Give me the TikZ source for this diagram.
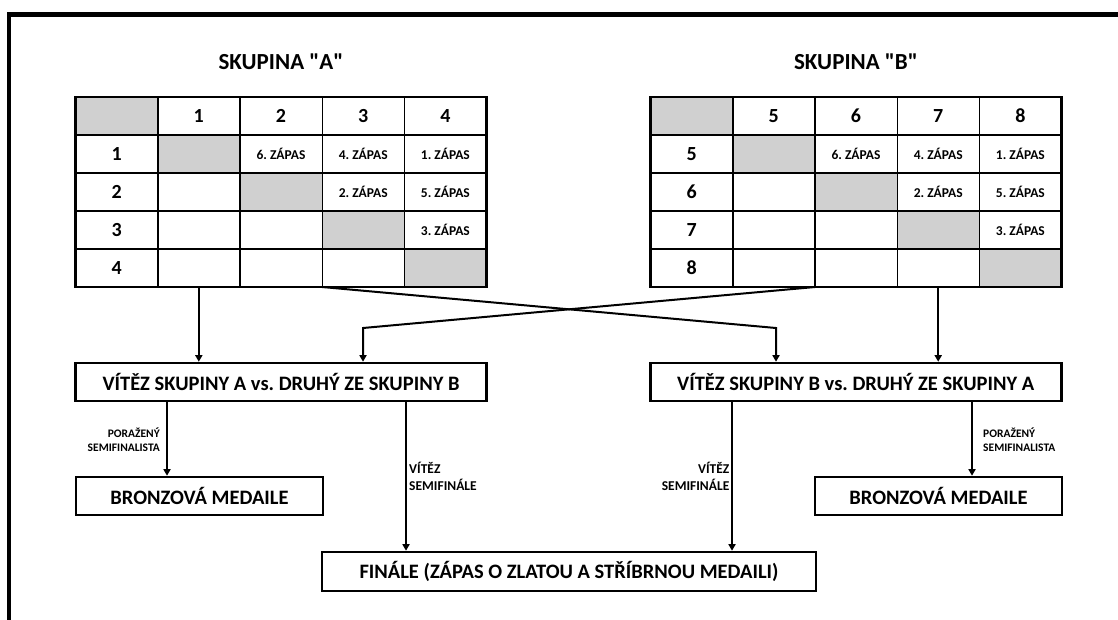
\documentclass[tikz,border=0pt]{standalone}
\usepackage{fontspec}
\setmainfont{Carlito}[Ligatures=TeXOff]
\usetikzlibrary{arrows.meta}
\definecolor{cellgray}{RGB}{208,208,208}
\frenchspacing
\begin{document}
\frenchspacing
\begin{tikzpicture}[x=1pt,y=-1pt,
  cell/.style={draw, line width=1.2pt, minimum width=82.2pt, minimum height=38pt, inner sep=0pt, outer sep=0pt, anchor=north west},
  gcell/.style={cell, fill=cellgray},
  num/.style={font=\bfseries\fontsize{20}{22}\selectfont},
  zap/.style={font=\bfseries\fontsize{13.5}{15}\selectfont},
  ttl/.style={font=\bfseries\fontsize{23}{25}\selectfont},
  box/.style={draw, line width=2.6pt, minimum height=38pt, inner sep=0pt, font=\bfseries\fontsize{20.5}{22}\selectfont},
  conn/.style={line width=2pt},
  arr/.style={conn, -{Triangle[length=6.5pt,width=7pt]}},
  lblsmall/.style={inner sep=0pt, font=\bfseries\fontsize{11.5}{14.5}\selectfont},
  lblbig/.style={inner sep=0pt, font=\bfseries\fontsize{13.5}{16.5}\selectfont},
  thickline/.style={line width=2.6pt},
  midline/.style={line width=2pt}
]
\useasboundingbox (0,0) rectangle (1118,619);
% frame
\draw[line width=4.5pt] (9.2,625) -- (9.2,14.7) -- (1125,14.7);

% titles
\node[ttl] (tA) at (281,62) {SKUPINA "A"};
\node[ttl] (tB) at (856,62) {SKUPINA "B"};

% tables
\foreach \T/\x in {A/75.5,B/650.5}{
  \foreach \r in {0,...,4}{
    \foreach \c in {0,...,4}{
      \ifnum\r=\c \def\st{gcell}\else\def\st{cell}\fi
      \node[\st] (\T-\r-\c) at ({\x+82.2*\c},{97+38*\r}) {};
    }
  }
  \draw[thickline] (\T-0-0.north west) rectangle (\T-4-4.south east);
  \draw[midline] (\T-0-0.south west) -- (\T-0-4.south east);
  \draw[midline] (\T-0-0.north east) -- (\T-4-0.south east);
  \node[zap] at (\T-1-2) {6. ZÁPAS};
  \node[zap] at (\T-1-3) {4. ZÁPAS};
  \node[zap] at (\T-1-4) {1. ZÁPAS};
  \node[zap] at (\T-2-3) {2. ZÁPAS};
  \node[zap] at (\T-2-4) {5. ZÁPAS};
  \node[zap] at (\T-3-4) {3. ZÁPAS};
}
\foreach \i in {1,...,4}{
  \node[num] at (A-0-\i) {\i};
  \node[num] at (A-\i-0) {\i};
}
\foreach \i/\n in {1/5,2/6,3/7,4/8}{
  \node[num] at (B-0-\i) {\n};
  \node[num] at (B-\i-0) {\n};
}

% boxes
\node[box, minimum width=411pt] (boxA) at (281,382) {VÍTĚZ SKUPINY A vs. DRUHÝ ZE SKUPINY B};
\node[box, minimum width=411pt] (boxB) at (855.7,382) {VÍTĚZ SKUPINY B vs. DRUHÝ ZE SKUPINY A};
\node[box, minimum width=247pt] (brA) at (199.5,496) {BRONZOVÁ MEDAILE};
\node[box, minimum width=247pt] (brB) at (938.5,496) {BRONZOVÁ MEDAILE};
\node[box, minimum width=494pt, minimum height=39pt] (fin) at (569,571.5) {FINÁLE (ZÁPAS O ZLATOU A STŘÍBRNOU MEDAILI)};

% connectors from tables
\coordinate (kA) at (363,328);
\coordinate (kB) at (776,328);
\draw[arr] (A-4-1.south) -- (A-4-1.south |- boxA.north);
\draw[arr] (B-4-3.south) -- (B-4-3.south |- boxB.north);
\draw[arr] (A-4-3.south west) -- (kB) -- (kB |- boxB.north);
\draw[arr] (B-4-2.south west) -- (kA) -- (kA |- boxA.north);

% connectors from semifinal boxes
\coordinate (pA) at (167,0);
\coordinate (qA) at (406,0);
\coordinate (qB) at (732,0);
\coordinate (pB) at (972,0);
\draw[arr] (pA |- boxA.south) -- (pA |- brA.north);
\draw[arr] (qA |- boxA.south) -- (qA |- fin.north);
\draw[arr] (qB |- boxB.south) -- (qB |- fin.north);
\draw[arr] (pB |- boxB.south) -- (pB |- brB.north);

% labels
\node[lblsmall, align=right, anchor=east] (lpA) at (160,439.5) {PORAŽENÝ\\SEMIFINALISTA};
\node[lblsmall, align=left, anchor=west] (lpB) at (983,439.5) {PORAŽENÝ\\SEMIFINALISTA};
\node[lblbig, align=left, anchor=west] (lvA) at (409,476.5) {VÍTĚZ\\SEMIFINÁLE};
\node[lblbig, align=right, anchor=east] (lvB) at (729.5,476.5) {VÍTĚZ\\SEMIFINÁLE};
\end{tikzpicture}
\end{document}
